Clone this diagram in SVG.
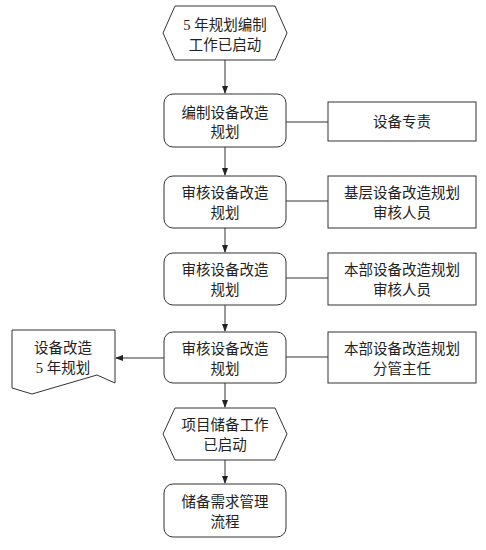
<svg xmlns="http://www.w3.org/2000/svg" width="486" height="550" viewBox="0 0 486 550">
<style>
.s{fill:#fff;stroke:#333;stroke-width:1}
.c{fill:none;stroke:#333;stroke-width:1}
.t{font-family:"Liberation Serif","Noto Sans CJK SC",serif;font-size:14.5px;fill:#222;text-anchor:middle}
</style>
<defs>
<marker id="ah" markerWidth="8" markerHeight="8" refX="7" refY="4" orient="auto" markerUnits="userSpaceOnUse">
<path d="M0,1 L8,4 L0,7 Z" fill="#222"/>
</marker>
</defs>
<rect width="486" height="550" fill="#fff"/>
<g id="connectors">
<line class="c" x1="225" y1="60" x2="225" y2="93" marker-end="url(#ah)"/>
<line class="c" x1="225" y1="147" x2="225" y2="175" marker-end="url(#ah)"/>
<line class="c" x1="225" y1="228" x2="225" y2="252" marker-end="url(#ah)"/>
<line class="c" x1="225" y1="305" x2="225" y2="331" marker-end="url(#ah)"/>
<line class="c" x1="225" y1="383" x2="225" y2="407" marker-end="url(#ah)"/>
<line class="c" x1="225" y1="460" x2="225" y2="483" marker-end="url(#ah)"/>
<line class="c" x1="164" y1="358" x2="116" y2="358" marker-end="url(#ah)"/>
<line class="c" x1="286" y1="122" x2="328" y2="122"/>
<line class="c" x1="286" y1="201" x2="328" y2="201"/>
<line class="c" x1="286" y1="278" x2="328" y2="278"/>
<line class="c" x1="286" y1="357" x2="328" y2="357"/>
</g>
<g id="start">
<polygon class="s" points="175,6 275,6 287,33 275,60 175,60 163,33"/>
<text class="t" x="225" y="30">5 年规划编制</text>
<text class="t" x="225" y="50">工作已启动</text>
</g>
<g id="step1">
<rect class="s" x="164" y="94" width="122" height="53" rx="9"/>
<text class="t" x="225" y="118">编制设备改造</text>
<text class="t" x="225" y="137">规划</text>
</g>
<g id="role1">
<rect class="s" x="328" y="102" width="148" height="39"/>
<text class="t" x="402" y="127">设备专责</text>
</g>
<g id="step2">
<rect class="s" x="164" y="176" width="122" height="52" rx="9"/>
<text class="t" x="225" y="198">审核设备改造</text>
<text class="t" x="225" y="218">规划</text>
</g>
<g id="role2">
<rect class="s" x="328" y="176" width="148" height="52"/>
<text class="t" x="402" y="198">基层设备改造规划</text>
<text class="t" x="402" y="218">审核人员</text>
</g>
<g id="step3">
<rect class="s" x="164" y="253" width="122" height="52" rx="9"/>
<text class="t" x="225" y="275">审核设备改造</text>
<text class="t" x="225" y="295">规划</text>
</g>
<g id="role3">
<rect class="s" x="328" y="253" width="148" height="52"/>
<text class="t" x="402" y="275">本部设备改造规划</text>
<text class="t" x="402" y="295">审核人员</text>
</g>
<g id="step4">
<rect class="s" x="164" y="332" width="122" height="51" rx="9"/>
<text class="t" x="225" y="354">审核设备改造</text>
<text class="t" x="225" y="374">规划</text>
</g>
<g id="role4">
<rect class="s" x="328" y="332" width="148" height="51"/>
<text class="t" x="402" y="354">本部设备改造规划</text>
<text class="t" x="402" y="374">分管主任</text>
</g>
<g id="doc">
<path class="s" d="M12,330 L115,330 L115,383 L97,375 L32,394 L12,388 Z"/>
<text class="t" x="63" y="353">设备改造</text>
<text class="t" x="63" y="373">5 年规划</text>
</g>
<g id="start2">
<polygon class="s" points="175,408 275,408 287,434 275,460 175,460 163,434"/>
<text class="t" x="225" y="430">项目储备工作</text>
<text class="t" x="225" y="450">已启动</text>
</g>
<g id="step5">
<rect class="s" x="164" y="484" width="122" height="53" rx="9"/>
<text class="t" x="225" y="507">储备需求管理</text>
<text class="t" x="225" y="527">流程</text>
</g>
</svg>
